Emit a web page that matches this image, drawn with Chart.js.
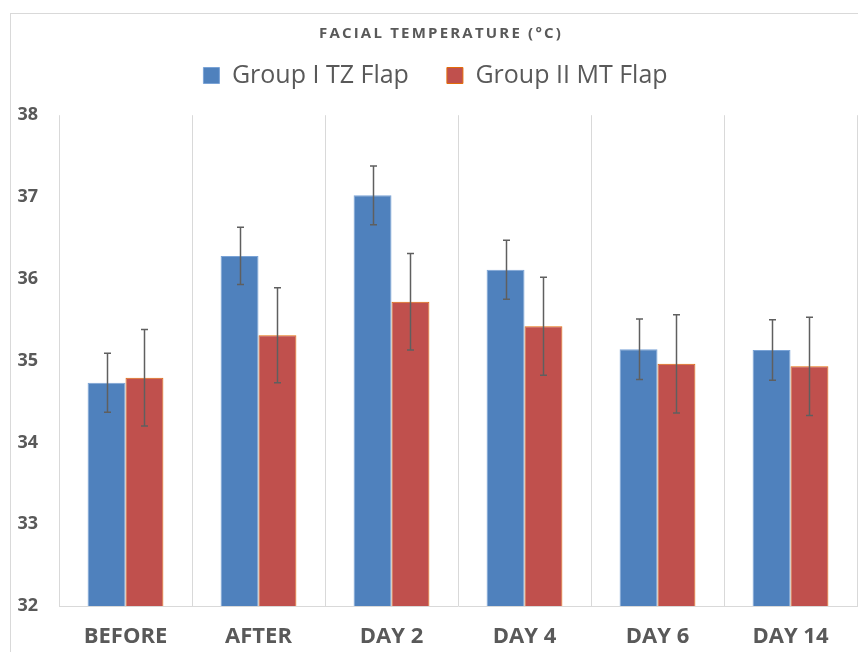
<!DOCTYPE html>
<html>
<head>
<meta charset="utf-8">
<script src="https://cdn.jsdelivr.net/npm/chart.js@4/dist/chart.umd.min.js"></script>
<style>
  html, body { margin: 0; padding: 0; background: #fff; }
  #wrap { position: relative; width: 858px; height: 652px; }
</style>
</head>
<body>
<div id="wrap"><canvas id="tempChart" width="858" height="652"></canvas></div>
<script>
// values
var chartTitle = 'FACIAL TEMPERATURE (°C)';
var categories = ['BEFORE', 'AFTER', 'DAY 2', 'DAY 4', 'DAY 6', 'DAY 14'];
var groupI = [34.73, 36.28, 37.02, 36.11, 35.14, 35.13];
var groupISd = [0.36, 0.35, 0.36, 0.36, 0.37, 0.37];
var groupII = [34.79, 35.31, 35.72, 35.42, 34.96, 34.93];
var groupIISd = [0.59, 0.58, 0.59, 0.60, 0.60, 0.60];
var yTicks = [32, 33, 34, 35, 36, 37, 38];

var sdLists = [groupISd, groupIISd];
var textGrey = '#595959';

// light frame round the figure + spaced-out title (Chart.js title can't letter-space)
var framePlugin = {
  id: 'frame',
  beforeDraw: function(chart) {
    var ctx = chart.ctx;
    ctx.save();
    ctx.strokeStyle = '#d9d9d9';
    ctx.lineWidth = 1;
    ctx.strokeRect(10.5, 13.5, 900, 700);
    ctx.fillStyle = textGrey;
    ctx.font = 'bold 15px "Open Sans"';
    ctx.letterSpacing = '2.2px';
    ctx.textAlign = 'center';
    ctx.textBaseline = 'middle';
    ctx.fillText(chartTitle, 441, 34);
    ctx.restore();
  }
};

// standard deviation whiskers on every bar
var errorBars = {
  id: 'errorBars',
  afterDatasetsDraw: function(chart) {
    var ctx = chart.ctx;
    var y = chart.scales.y;
    ctx.save();
    ctx.strokeStyle = '#5f5f5f';
    ctx.lineWidth = 1.5;
    chart.data.datasets.forEach(function(ds, di) {
      var meta = chart.getDatasetMeta(di);
      meta.data.forEach(function(bar, i) {
        var v = ds.data[i], sd = sdLists[di][i];
        var top = y.getPixelForValue(v + sd);
        var bot = y.getPixelForValue(v - sd);
        var x = Math.round(bar.x) + 0.5;
        ctx.beginPath();
        ctx.moveTo(x, top); ctx.lineTo(x, bot);
        ctx.moveTo(x - 3.5, top); ctx.lineTo(x + 3.5, top);
        ctx.moveTo(x - 3.5, bot); ctx.lineTo(x + 3.5, bot);
        ctx.stroke();
      });
    });
    ctx.restore();
  }
};

new Chart(document.getElementById('tempChart'), {
  type: 'bar',
  data: {
    labels: categories,
    datasets: [{
      label: 'Group I TZ Flap',
      data: groupI,
      backgroundColor: '#4F81BD',
      borderColor: '#7aa3d6',
      borderWidth: 1
    }, {
      label: 'Group II MT Flap',
      data: groupII,
      backgroundColor: '#C0504D',
      borderColor: '#E36C09',
      borderWidth: 1
    }]
  },
  options: {
    responsive: false,
    animation: false,
    categoryPercentage: 0.57,
    barPercentage: 1.0,
    layout: { padding: { left: 14, right: 1, top: 25, bottom: 0 } },
    plugins: {
      title: { display: false },
      legend: {
        display: true,
        labels: {
          color: textGrey,
          font: { family: 'Open Sans', size: 25 },
          boxWidth: 16,
          boxHeight: 16,
          padding: 38
        }
      },
      // empty block under the legend, only to leave the gap before the plot
      subtitle: {
        display: true,
        text: '',
        weight: 500,
        font: { size: 1 },
        padding: { top: 16, bottom: 0 }
      },
      tooltip: { enabled: false }
    },
    scales: {
      x: {
        grid: { display: true, offset: true, color: '#d9d9d9', drawTicks: false },
        border: { display: true, color: '#d9d9d9' },
        ticks: {
          color: textGrey,
          padding: 18,
          font: { family: 'Open Sans', size: 22, weight: 'bold' }
        },
        afterFit: function(scale) { scale.height = 46; }
      },
      y: {
        min: 32,
        max: 38,
        afterBuildTicks: function(scale) {
          scale.ticks = yTicks.map(function(v) { return { value: v }; });
        },
        grid: { display: false },
        border: { display: false },
        ticks: {
          color: textGrey,
          padding: 13,
          font: { family: 'Open Sans', size: 18, weight: 'bold' }
        },
        afterFit: function(scale) { scale.width = 45; }
      }
    }
  },
  plugins: [framePlugin, errorBars]
});
</script>
</body>
</html>
